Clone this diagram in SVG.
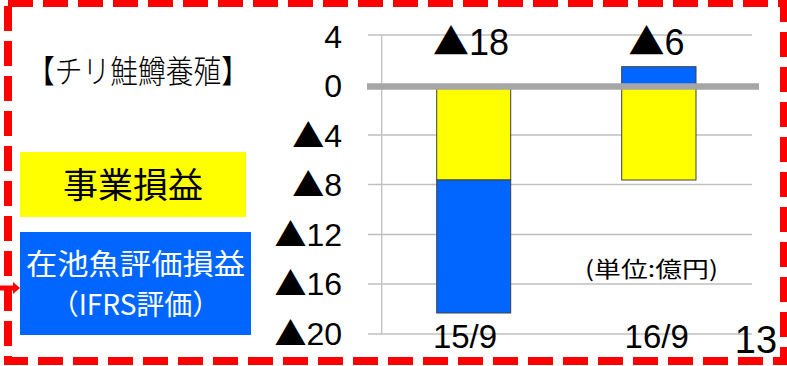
<svg xmlns="http://www.w3.org/2000/svg" width="787" height="366" viewBox="0 0 787 366">
<style>
.ax{font-family:"Liberation Sans",sans-serif;font-size:32px;fill:#000;text-anchor:end}
.lab{font-family:"Liberation Sans",sans-serif;font-size:36px;fill:#000;text-anchor:middle}
.cat{font-family:"Liberation Sans",sans-serif;font-size:33px;fill:#000;text-anchor:middle}
.tri{font-family:"Noto Sans CJK JP",sans-serif}
.jp{font-family:"Noto Sans CJK JP",sans-serif}
.grid{stroke:#bfbfbf;stroke-width:1.3;fill:none}
.bar{stroke:#404040;stroke-width:1}
.y{fill:#ffff00}
.b{fill:#0066ff}
</style>
<rect x="0" y="0" width="787" height="366" fill="#fff"/>
<g id="frame">
<rect x="8" y="3" width="776" height="358" fill="none" stroke="#ff0000" stroke-width="8" stroke-dasharray="25 10"/>
</g>
<g id="title">
<text class="jp" x="27" y="83" font-size="32" font-weight="300" textLength="222" lengthAdjust="spacingAndGlyphs">【チリ鮭鱒養殖】</text>
</g>
<g id="grid">
<line class="grid" x1="368" y1="35" x2="752" y2="35"/>
<line class="grid" x1="368" y1="135" x2="752" y2="135"/>
<line class="grid" x1="368" y1="184.5" x2="752" y2="184.5"/>
<line class="grid" x1="368" y1="234.5" x2="752" y2="234.5"/>
<line class="grid" x1="368" y1="284" x2="752" y2="284"/>
<line class="grid" x1="368" y1="334" x2="752" y2="334"/>
<line class="grid" x1="381.7" y1="35" x2="381.7" y2="334"/>
</g>
<g id="axis-labels">
<text class="ax" x="342" y="48">4</text>
<text class="ax" x="342" y="97">0</text>
<text class="ax" x="342" y="147"><tspan class="tri">▲</tspan>4</text>
<text class="ax" x="342" y="196"><tspan class="tri">▲</tspan>8</text>
<text class="ax" x="342" y="246"><tspan class="tri">▲</tspan>12</text>
<text class="ax" x="342" y="295"><tspan class="tri">▲</tspan>16</text>
<text class="ax" x="342" y="345"><tspan class="tri">▲</tspan>20</text>
</g>
<g id="bar-15-9">
<rect class="bar y" x="436.7" y="86" width="74" height="94"/>
<rect class="bar b" x="436.7" y="180" width="74" height="133"/>
</g>
<g id="bar-16-9">
<rect class="bar b" x="621.7" y="66.7" width="74.3" height="19.3"/>
<rect class="bar y" x="621.7" y="86" width="74.3" height="94"/>
</g>
<g id="zero-line">
<line x1="367" y1="86.5" x2="759" y2="86.5" stroke="#a6a6a6" stroke-width="6.5"/>
</g>
<g id="totals">
<text class="lab" x="471" y="55"><tspan class="tri">▲</tspan>18</text>
<text class="lab" x="656.5" y="55"><tspan class="tri">▲</tspan>6</text>
</g>
<g id="categories">
<text class="cat" x="465" y="348">15/9</text>
<text class="cat" x="656.7" y="348">16/9</text>
</g>
<g id="unit">
<text class="jp" x="585" y="277" font-size="22" textLength="133" lengthAdjust="spacingAndGlyphs">(単位:億円)</text>
</g>
<g id="legend-business">
<rect x="20" y="152" width="226" height="65" fill="#ffff00"/>
<text class="jp" x="133" y="198" font-size="35" text-anchor="middle">事業損益</text>
</g>
<g id="legend-valuation">
<rect x="20" y="232" width="231" height="103" fill="#0066ff"/>
<text class="jp" x="135.5" y="275" font-size="29" fill="#fff" text-anchor="middle" textLength="219" lengthAdjust="spacingAndGlyphs">在池魚評価損益</text>
<text class="jp" x="135.5" y="315" font-size="28" fill="#fff" text-anchor="middle">（IFRS評価）</text>
</g>
<g id="connectors">
<line x1="0" y1="288" x2="16" y2="288" stroke="#ff0000" stroke-width="5"/>
<polygon points="13,282 20,288 13,294" fill="#ff0000"/>
</g>
<g id="page-number">
<text x="756" y="353" font-family="Liberation Sans,sans-serif" font-size="38" text-anchor="middle">13</text>
</g>
</svg>
